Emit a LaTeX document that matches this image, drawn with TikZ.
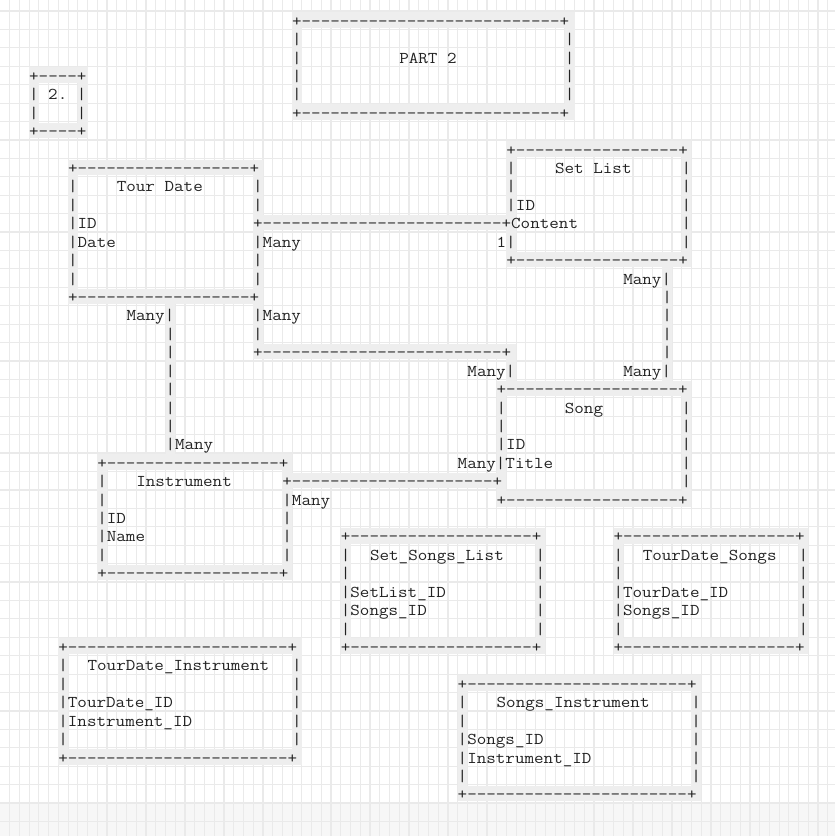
\documentclass[tikz,border=0pt]{standalone}
\usepackage{graphicx}
\definecolor{txt}{HTML}{222222}
\definecolor{band}{HTML}{EEEEEE}
\definecolor{gridc}{HTML}{EAEAEA}
\newcommand\asc{\fontsize{12.37pt}{14pt}\selectfont\ttfamily}
\newcommand\D[1]{\foreach \i in {1,...,#1}{-\kern0pt}}
\newcommand\T[3]{\node[ch,name=n#1x#2] at ({9.74*#1-0.07},{20.2+18.42*#2+6.0}) {\scalebox{1.125}[1]{#3}};}
\newcommand\HB[3]{\fill[band] ({9.74*#1-0.07},{20.2+18.42*#3-8.0}) rectangle ({9.74*(#2+1)-0.07},{20.2+18.42*#3+7.6});}
\newcommand\VB[3]{\fill[band] ({9.74*#1-0.07},{20.2+18.42*#2}) rectangle ({9.74*(#1+1)-0.07},{20.2+18.42*#3});}
\newcommand\FR[4]{\HB{#1}{#2}{#3}\HB{#1}{#2}{#4}\VB{#1}{#3}{#4}\VB{#2}{#3}{#4}}
\begin{document}
\begin{tikzpicture}[x=0.75pt,y=-0.75pt,
  ch/.style={anchor=base west,inner sep=0pt,outer sep=0pt,text=txt,font=\asc},
  gridl/.style={draw=gridc,line width=0.9pt}]
\useasboundingbox (0,0) rectangle (835,836);
\fill[white] (0,0) rectangle (835,836);
\fill[black!3] (0,803) rectangle (835,836);
% grid
\foreach \k in {1,...,85} \draw[gridl] ({9.74*\k-0.07},0) -- ({9.74*\k-0.07},836);
\foreach \r in {0,...,45} \draw[gridl] (0,{11.0+18.42*\r}) -- (835,{11.0+18.42*\r});
% gray bands
\FR{3}{8}{3}{6}
\FR{30}{58}{0}{5}
\FR{7}{26}{8}{15}
\FR{52}{70}{7}{13}
\FR{51}{70}{20}{26}
\FR{10}{29}{24}{30}
\FR{35}{55}{28}{34}
\FR{63}{82}{28}{34}
\FR{6}{30}{34}{40}
\FR{47}{71}{36}{42}
\HB{26}{52}{11}
\HB{26}{52}{18}
\VB{26}{15}{18}
\VB{52}{18}{20}
\VB{68}{13}{20}
\VB{17}{15}{24}
\HB{29}{51}{25}
% box "2."
\T{3}{3}{+\D{4}+}
\T{3}{4}{|~2.~|}
\T{3}{5}{|~~~~|}
\T{3}{6}{+\D{4}+}
% PART 2
\T{30}{0}{+\D{27}+}
\foreach \r in {1,...,4}{\T{30}{\r}{|}\T{58}{\r}{|}}
\T{41}{2}{PART~2}
\T{30}{5}{+\D{27}+}
% Tour Date
\T{7}{8}{+\D{18}+}
\T{7}{9}{|}\T{12}{9}{Tour~Date}\T{26}{9}{|}
\T{7}{10}{|}\T{26}{10}{|}
\T{7}{11}{|ID}\T{26}{11}{+\D{25}+Content}
\T{7}{12}{|Date}\T{26}{12}{|Many}\T{51}{12}{1|}
\T{7}{13}{|}\T{26}{13}{|}
\T{7}{14}{|}\T{26}{14}{|}
\T{7}{15}{+\D{18}+}
\T{13}{16}{Many|}\T{26}{16}{|Many}
\foreach \r in {17,...,22}{\T{17}{\r}{|}}
\T{26}{17}{|}
\T{26}{18}{+\D{25}+}
\T{48}{19}{Many|}
\T{17}{23}{|Many}
% Set List
\T{52}{7}{+\D{17}+}
\T{52}{8}{|}\T{57}{8}{Set~List}\T{70}{8}{|}
\T{52}{9}{|}\T{70}{9}{|}
\T{52}{10}{|ID}\T{70}{10}{|}
\T{70}{11}{|}
\T{70}{12}{|}
\T{52}{13}{+\D{17}+}
\T{64}{14}{Many|}
\foreach \r in {15,...,18}{\T{68}{\r}{|}}
\T{64}{19}{Many|}
% Song
\T{51}{20}{+\D{18}+}
\T{51}{21}{|}\T{58}{21}{Song}\T{70}{21}{|}
\T{51}{22}{|}\T{70}{22}{|}
\T{51}{23}{|ID}\T{70}{23}{|}
\T{47}{24}{Many|Title}\T{70}{24}{|}
\T{29}{25}{+\D{21}+}\T{70}{25}{|}
\T{51}{26}{+\D{18}+}
% Instrument
\T{10}{24}{+\D{18}+}
\T{10}{25}{|}\T{14}{25}{Instrument}
\T{10}{26}{|}\T{29}{26}{|Many}
\T{10}{27}{|ID}\T{29}{27}{|}
\T{10}{28}{|Name}\T{29}{28}{|}
\T{10}{29}{|}\T{29}{29}{|}
\T{10}{30}{+\D{18}+}
% Set_Songs_List
\T{35}{28}{+\D{19}+}
\T{35}{29}{|}\T{38}{29}{Set\_Songs\_List}\T{55}{29}{|}
\T{35}{30}{|}\T{55}{30}{|}
\T{35}{31}{|SetList\_ID}\T{55}{31}{|}
\T{35}{32}{|Songs\_ID}\T{55}{32}{|}
\T{35}{33}{|}\T{55}{33}{|}
\T{35}{34}{+\D{19}+}
% TourDate_Songs
\T{63}{28}{+\D{18}+}
\T{63}{29}{|}\T{66}{29}{TourDate\_Songs}\T{82}{29}{|}
\T{63}{30}{|}\T{82}{30}{|}
\T{63}{31}{|TourDate\_ID}\T{82}{31}{|}
\T{63}{32}{|Songs\_ID}\T{82}{32}{|}
\T{63}{33}{|}\T{82}{33}{|}
\T{63}{34}{+\D{18}+}
% TourDate_Instrument
\T{6}{34}{+\D{23}+}
\T{6}{35}{|}\T{9}{35}{TourDate\_Instrument}\T{30}{35}{|}
\T{6}{36}{|}\T{30}{36}{|}
\T{6}{37}{|TourDate\_ID}\T{30}{37}{|}
\T{6}{38}{|Instrument\_ID}\T{30}{38}{|}
\T{6}{39}{|}\T{30}{39}{|}
\T{6}{40}{+\D{23}+}
% Songs_Instrument
\T{47}{36}{+\D{23}+}
\T{47}{37}{|}\T{51}{37}{Songs\_Instrument}\T{71}{37}{|}
\T{47}{38}{|}\T{71}{38}{|}
\T{47}{39}{|Songs\_ID}\T{71}{39}{|}
\T{47}{40}{|Instrument\_ID}\T{71}{40}{|}
\T{47}{41}{|}\T{71}{41}{|}
\T{47}{42}{+\D{23}+}
\end{tikzpicture}
\end{document}
